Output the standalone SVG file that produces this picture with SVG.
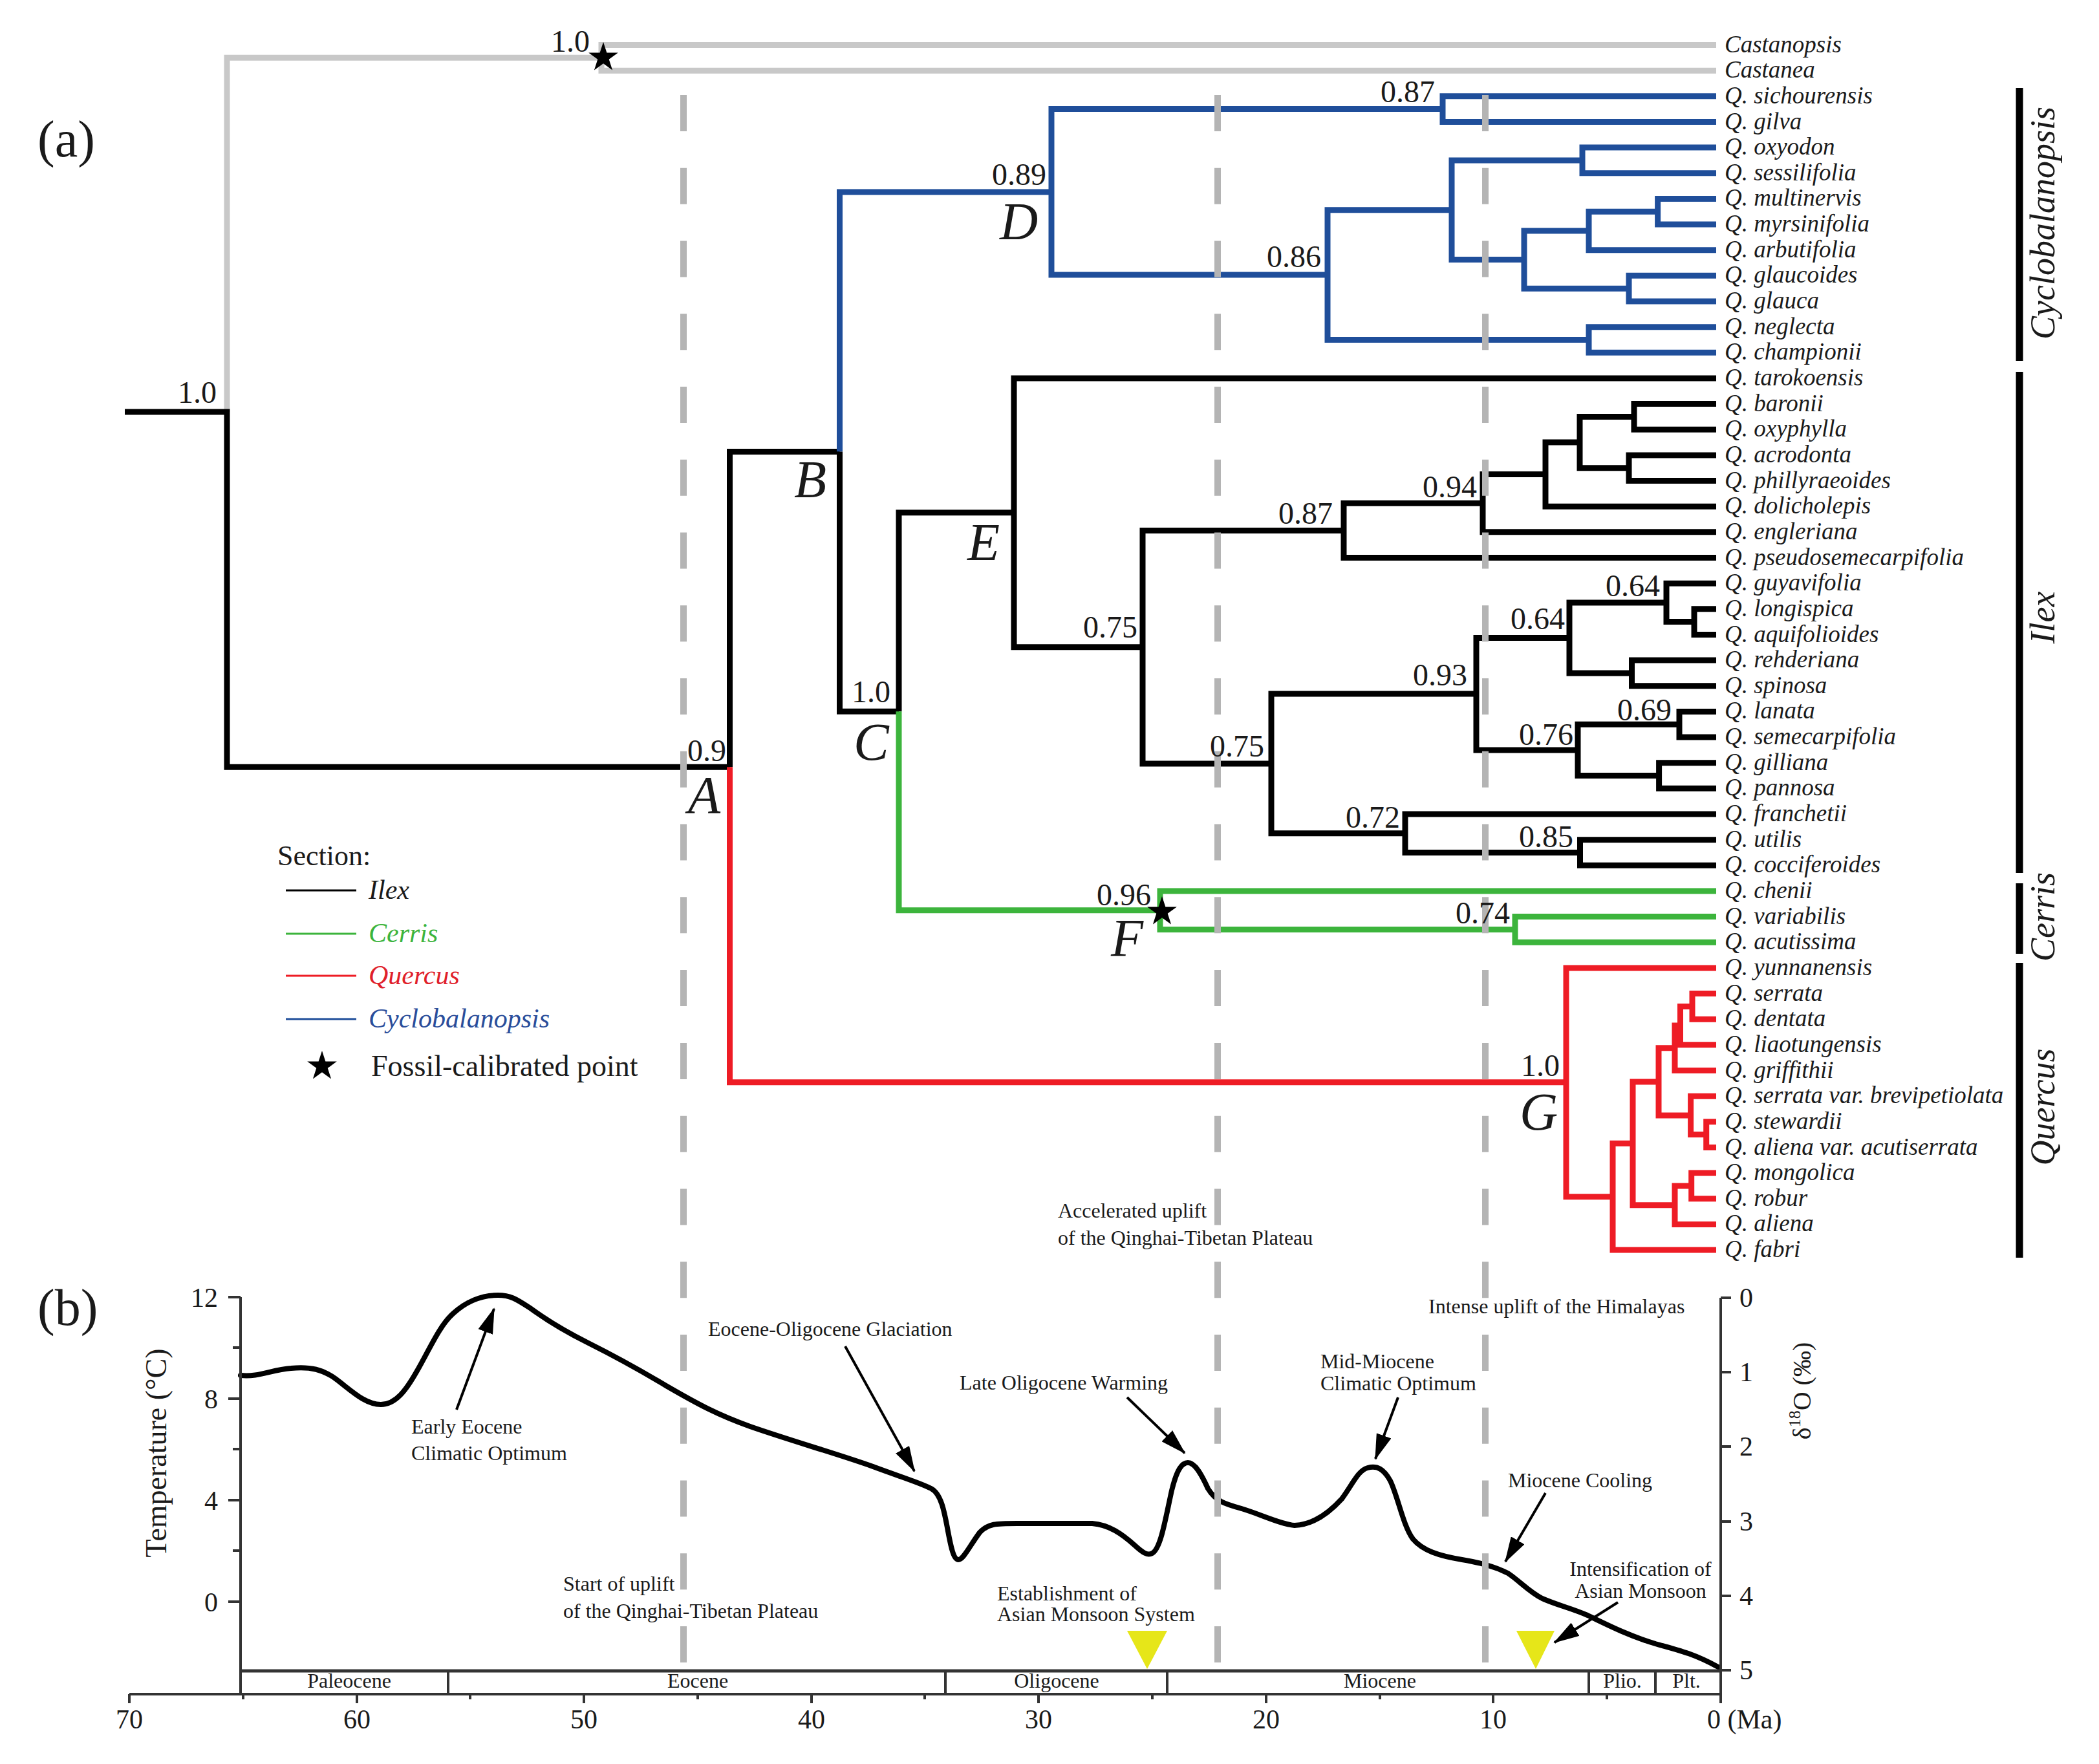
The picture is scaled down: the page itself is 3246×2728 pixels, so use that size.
<svg xmlns="http://www.w3.org/2000/svg" width="3246" height="2728" viewBox="0 0 3246 2728">
<defs>
<style>
text{font-family:"Liberation Serif","Times New Roman",serif;fill:#1a1a1a}
.tip{font-size:37px;font-style:italic}
.sup{font-size:48px;text-anchor:end}
.nl{font-size:82px;font-style:italic}
.br{fill:none;stroke-width:9;stroke-linejoin:miter;stroke-linecap:butt}
.k{stroke:#000}
.g{stroke:#c8c8c8}
.b{stroke:#1f4e9a}
.gr{stroke:#3cb43c}
.r{stroke:#ee1c25}
.dash{stroke:#b4b4b4;stroke-width:10;stroke-dasharray:56 56.76;fill:none}
.bar{stroke:#000;stroke-width:11}
.sec{font-size:54px;font-style:italic;text-anchor:middle}
.ann{font-size:32px}
.ax{stroke:#333;stroke-width:4;fill:none}
.tk{font-size:42px}
.ep{font-size:32px;text-anchor:middle}
.arr{stroke:#000;stroke-width:4;fill:none;marker-end:url(#ah)}
</style>
<path id="star" d="M0,-24 L5.39,-7.42 L22.83,-7.42 L8.72,2.83 L14.11,19.42 L0,9.17 L-14.11,19.42 L-8.72,2.83 L-22.83,-7.42 L-5.39,-7.42 Z" fill="#000"/>
<marker id="ah" markerUnits="userSpaceOnUse" markerWidth="40" markerHeight="24" refX="38" refY="12" orient="auto">
<path d="M0,0 L40,12 L0,24 Z" fill="#000"/>
</marker>
</defs>
<rect width="3246" height="2728" fill="#fff"/>

<text x="58" y="242" font-size="80">(a)</text>
<text x="58" y="2049" font-size="80">(b)</text>

<g id="connectors">
<path class="br g" d="M2654,69.5 H930 V109.15 H2654"/>
<path class="br g" d="M930,89.3 H351 V637"/>
<path class="br k" d="M193,637 H351 V1186.2 H1128.5"/>
<path class="br k" d="M1128.5,1186.2 V698.6 H1298.5"/>
<path class="br r" d="M1128.5,1186.2 V1673.8 H2422"/>
<path class="br b" d="M1298.5,698.6 V296.9 H1626"/>
<path class="br k" d="M1298.5,698.6 V1100.3 H1390"/>
<path class="br k" d="M1390,1100.3 V792.8 H1568"/>
<path class="br gr" d="M1390,1100.3 V1407.7 H1794"/>
<path class="br b" d="M2231,168.6 H1626 V425.1 H2053"/>
<path class="br b" d="M2654,148.8 H2231 V188.45 H2654"/>
<path class="br b" d="M2245,324.8 H2053 V525.5 H2457"/>
<path class="br b" d="M2654,505.65 H2457 V545.3 H2654"/>
<path class="br b" d="M2447,247.9 H2245 V401.6 H2357"/>
<path class="br b" d="M2654,228.1 H2447 V267.75 H2654"/>
<path class="br b" d="M2457,357 H2357 V446.2 H2519"/>
<path class="br b" d="M2563.6,327.2 H2457 V386.7 H2654"/>
<path class="br b" d="M2654,307.4 H2563.6 V347.05 H2654"/>
<path class="br b" d="M2654,426.35 H2519 V466 H2654"/>
<path class="br k" d="M2654,584.95 H1568 V1000.7 H1767"/>
<path class="br k" d="M2078,820.4 H1767 V1180.9 H1966"/>
<path class="br k" d="M2293,778.2 H2078 V862.5 H2654"/>
<path class="br k" d="M2390,733.6 H2293 V822.85 H2654"/>
<path class="br k" d="M2443,684.1 H2390 V783.2 H2654"/>
<path class="br k" d="M2527,644.4 H2443 V723.7 H2519"/>
<path class="br k" d="M2654,624.6 H2527 V664.25 H2654"/>
<path class="br k" d="M2654,703.9 H2519 V743.55 H2654"/>
<path class="br k" d="M2283,1073.1 H1966 V1288.7 H2173"/>
<path class="br k" d="M2427,986.4 H2283 V1159.9 H2440"/>
<path class="br k" d="M2577,931.9 H2427 V1040.9 H2523.5"/>
<path class="br k" d="M2654,902.15 H2577 V961.6 H2620"/>
<path class="br k" d="M2654,941.8 H2620 V981.45 H2654"/>
<path class="br k" d="M2654,1021.1 H2523.5 V1060.75 H2654"/>
<path class="br k" d="M2597,1120.2 H2440 V1199.5 H2565.6"/>
<path class="br k" d="M2654,1100.4 H2597 V1140.05 H2654"/>
<path class="br k" d="M2654,1179.7 H2565.6 V1219.35 H2654"/>
<path class="br k" d="M2654,1259 H2173 V1318.5 H2443.5"/>
<path class="br k" d="M2654,1298.65 H2443.5 V1338.3 H2654"/>
<path class="br gr" d="M2654,1377.95 H1794 V1437.4 H2343"/>
<path class="br gr" d="M2654,1417.6 H2343 V1457.25 H2654"/>
<path class="br r" d="M2654,1496.9 H2422 V1850.7 H2494"/>
<path class="br r" d="M2525,1768.3 H2494 V1933.05 H2654"/>
<path class="br r" d="M2565,1672.9 H2525 V1863.7 H2590"/>
<path class="br r" d="M2590,1620.8 H2565 V1724.9 H2614.6"/>
<path class="br r" d="M2598.5,1586.1 H2590 V1655.5 H2654"/>
<path class="br r" d="M2617,1556.4 H2598.5 V1615.85 H2654"/>
<path class="br r" d="M2654,1536.55 H2617 V1576.2 H2654"/>
<path class="br r" d="M2654,1695.15 H2614.6 V1754.6 H2638.7"/>
<path class="br r" d="M2654,1734.8 H2638.7 V1774.45 H2654"/>
<path class="br r" d="M2615.7,1833.9 H2590 V1893.4 H2654"/>
<path class="br r" d="M2654,1814.1 H2615.7 V1853.75 H2654"/>
</g>

<g id="temperature-curve">
<path fill="none" stroke="#000" stroke-width="8" stroke-linejoin="round" stroke-linecap="round" d="M372,2127 C400,2130 420,2118 450,2116 C480,2113 500,2118 520,2133 C545,2152 565,2172 589,2172 C612,2172 628,2150 645,2120 C665,2085 680,2050 700,2032 C720,2013 745,2003 770,2003 C790,2003 800,2010 820,2023 C850,2045 880,2062 910,2077 C960,2102 1000,2125 1030,2143 C1080,2172 1110,2188 1160,2206 C1220,2227 1300,2250 1350,2268 C1390,2283 1420,2292 1440,2302 C1455,2310 1460,2335 1466,2368 C1471,2395 1475,2412 1482,2412 C1490,2412 1500,2390 1515,2370 C1528,2356 1540,2356 1573,2356 L1689,2356 C1715,2358 1735,2372 1755,2390 C1768,2402 1775,2406 1782,2402 C1795,2395 1802,2350 1812,2305 C1820,2272 1828,2262 1837,2262 C1848,2262 1858,2280 1868,2302 C1880,2322 1895,2326 1920,2333 C1950,2342 1980,2357 2002,2359 C2030,2358 2055,2340 2075,2318 C2092,2295 2100,2274 2115,2270 C2130,2266 2140,2272 2150,2290 C2162,2315 2170,2360 2185,2380 C2200,2398 2225,2406 2261,2412 C2290,2417 2310,2422 2332,2433 C2350,2445 2365,2462 2385,2472 C2410,2483 2430,2487 2455,2498 C2490,2515 2520,2530 2560,2542 C2600,2553 2620,2558 2657,2578"/>
</g>

<g id="dashed-lines">
<line class="dash" x1="1057" y1="147" x2="1057" y2="2571"/>
<line class="dash" x1="1883" y1="147" x2="1883" y2="2571"/>
<line class="dash" x1="2297" y1="147" x2="2297" y2="2571"/>
</g>

<g id="fossil-stars">
<use href="#star" transform="translate(933,89)"/>
<use href="#star" transform="translate(1797,1410)"/>
</g>

<g id="support-values">
<text class="sup" x="335" y="623">1.0</text>
<text class="sup" x="912" y="80">1.0</text>
<text class="sup" x="1618" y="286">0.89</text>
<text class="sup" x="2219" y="158">0.87</text>
<text class="sup" x="2043" y="413">0.86</text>
<text class="sup" x="1123" y="1177">0.9</text>
<text class="sup" x="1377" y="1086">1.0</text>
<text class="sup" x="1759" y="986">0.75</text>
<text class="sup" x="2061" y="810">0.87</text>
<text class="sup" x="2284" y="769">0.94</text>
<text class="sup" x="2269" y="1060">0.93</text>
<text class="sup" x="1955" y="1170">0.75</text>
<text class="sup" x="2165" y="1280">0.72</text>
<text class="sup" x="2567" y="922">0.64</text>
<text class="sup" x="2420" y="973">0.64</text>
<text class="sup" x="2585" y="1114">0.69</text>
<text class="sup" x="2433" y="1152">0.76</text>
<text class="sup" x="2433" y="1310">0.85</text>
<text class="sup" x="1780" y="1400">0.96</text>
<text class="sup" x="2335" y="1428">0.74</text>
<text class="sup" x="2412" y="1664">1.0</text>
</g>

<g id="node-A"><text class="nl" x="1064" y="1257">A</text></g>
<g id="node-B"><text class="nl" x="1228" y="769">B</text></g>
<g id="node-C"><text class="nl" x="1320" y="1175">C</text></g>
<g id="node-D"><text class="nl" x="1546" y="370">D</text></g>
<g id="node-E"><text class="nl" x="1496" y="866">E</text></g>
<g id="node-F"><text class="nl" x="1718" y="1478">F</text></g>
<g id="node-G"><text class="nl" x="2350" y="1747">G</text></g>

<g id="tips">
<g id="tip-castanopsis"><text class="tip" x="2667" y="80.5">Castanopsis</text></g>
<g id="tip-castanea"><text class="tip" x="2667" y="120.2">Castanea</text></g>
<g id="tip-sichourensis"><text class="tip" x="2667" y="159.8">Q. sichourensis</text></g>
<g id="tip-gilva"><text class="tip" x="2667" y="199.5">Q. gilva</text></g>
<g id="tip-oxyodon"><text class="tip" x="2667" y="239.1">Q. oxyodon</text></g>
<g id="tip-sessilifolia"><text class="tip" x="2667" y="278.8">Q. sessilifolia</text></g>
<g id="tip-multinervis"><text class="tip" x="2667" y="318.4">Q. multinervis</text></g>
<g id="tip-myrsinifolia"><text class="tip" x="2667" y="358.1">Q. myrsinifolia</text></g>
<g id="tip-arbutifolia"><text class="tip" x="2667" y="397.7">Q. arbutifolia</text></g>
<g id="tip-glaucoides"><text class="tip" x="2667" y="437.4">Q. glaucoides</text></g>
<g id="tip-glauca"><text class="tip" x="2667" y="477">Q. glauca</text></g>
<g id="tip-neglecta"><text class="tip" x="2667" y="516.7">Q. neglecta</text></g>
<g id="tip-championii"><text class="tip" x="2667" y="556.3">Q. championii</text></g>
<g id="tip-tarokoensis"><text class="tip" x="2667" y="596">Q. tarokoensis</text></g>
<g id="tip-baronii"><text class="tip" x="2667" y="635.6">Q. baronii</text></g>
<g id="tip-oxyphylla"><text class="tip" x="2667" y="675.3">Q. oxyphylla</text></g>
<g id="tip-acrodonta"><text class="tip" x="2667" y="714.9">Q. acrodonta</text></g>
<g id="tip-phillyraeoides"><text class="tip" x="2667" y="754.6">Q. phillyraeoides</text></g>
<g id="tip-dolicholepis"><text class="tip" x="2667" y="794.2">Q. dolicholepis</text></g>
<g id="tip-engleriana"><text class="tip" x="2667" y="833.9">Q. engleriana</text></g>
<g id="tip-pseudosemecarpifolia"><text class="tip" x="2667" y="873.5">Q. pseudosemecarpifolia</text></g>
<g id="tip-guyavifolia"><text class="tip" x="2667" y="913.2">Q. guyavifolia</text></g>
<g id="tip-longispica"><text class="tip" x="2667" y="952.8">Q. longispica</text></g>
<g id="tip-aquifolioides"><text class="tip" x="2667" y="992.5">Q. aquifolioides</text></g>
<g id="tip-rehderiana"><text class="tip" x="2667" y="1032.1">Q. rehderiana</text></g>
<g id="tip-spinosa"><text class="tip" x="2667" y="1071.8">Q. spinosa</text></g>
<g id="tip-lanata"><text class="tip" x="2667" y="1111.4">Q. lanata</text></g>
<g id="tip-semecarpifolia"><text class="tip" x="2667" y="1151.1">Q. semecarpifolia</text></g>
<g id="tip-gilliana"><text class="tip" x="2667" y="1190.7">Q. gilliana</text></g>
<g id="tip-pannosa"><text class="tip" x="2667" y="1230.4">Q. pannosa</text></g>
<g id="tip-franchetii"><text class="tip" x="2667" y="1270">Q. franchetii</text></g>
<g id="tip-utilis"><text class="tip" x="2667" y="1309.7">Q. utilis</text></g>
<g id="tip-cocciferoides"><text class="tip" x="2667" y="1349.3">Q. cocciferoides</text></g>
<g id="tip-chenii"><text class="tip" x="2667" y="1389">Q. chenii</text></g>
<g id="tip-variabilis"><text class="tip" x="2667" y="1428.6">Q. variabilis</text></g>
<g id="tip-acutissima"><text class="tip" x="2667" y="1468.3">Q. acutissima</text></g>
<g id="tip-yunnanensis"><text class="tip" x="2667" y="1507.9">Q. yunnanensis</text></g>
<g id="tip-serrata"><text class="tip" x="2667" y="1547.6">Q. serrata</text></g>
<g id="tip-dentata"><text class="tip" x="2667" y="1587.2">Q. dentata</text></g>
<g id="tip-liaotungensis"><text class="tip" x="2667" y="1626.9">Q. liaotungensis</text></g>
<g id="tip-griffithii"><text class="tip" x="2667" y="1666.5">Q. griffithii</text></g>
<g id="tip-serrata-brevipetiolata"><text class="tip" x="2667" y="1706.2">Q. serrata var. brevipetiolata</text></g>
<g id="tip-stewardii"><text class="tip" x="2667" y="1745.8">Q. stewardii</text></g>
<g id="tip-aliena-acutiserrata"><text class="tip" x="2667" y="1785.5">Q. aliena var. acutiserrata</text></g>
<g id="tip-mongolica"><text class="tip" x="2667" y="1825.1">Q. mongolica</text></g>
<g id="tip-robur"><text class="tip" x="2667" y="1864.8">Q. robur</text></g>
<g id="tip-aliena"><text class="tip" x="2667" y="1904.4">Q. aliena</text></g>
<g id="tip-fabri"><text class="tip" x="2667" y="1944.1">Q. fabri</text></g>
</g>

<g id="section-bars">
<line class="bar" x1="3123" y1="136" x2="3123" y2="558"/>
<line class="bar" x1="3123" y1="575" x2="3123" y2="1350"/>
<line class="bar" x1="3123" y1="1366" x2="3123" y2="1475"/>
<line class="bar" x1="3123" y1="1489" x2="3123" y2="1945"/>
<text class="sec" transform="translate(3177,345) rotate(-90)">Cyclobalanopsis</text>
<text class="sec" transform="translate(3177,955) rotate(-90)">Ilex</text>
<text class="sec" transform="translate(3177,1418) rotate(-90)">Cerris</text>
<text class="sec" transform="translate(3177,1712) rotate(-90)">Quercus</text>
</g>

<g id="legend">
<text x="429" y="1338" font-size="44">Section:</text>
<line x1="442" y1="1377" x2="551" y2="1377" stroke="#000" stroke-width="3"/>
<line x1="442" y1="1444" x2="551" y2="1444" stroke="#3cb43c" stroke-width="3"/>
<line x1="442" y1="1509" x2="551" y2="1509" stroke="#ee1c25" stroke-width="3"/>
<line x1="442" y1="1576" x2="551" y2="1576" stroke="#1f4e9a" stroke-width="3"/>
<text x="570" y="1390" font-size="42" font-style="italic">Ilex</text>
<text x="570" y="1457" font-size="42" font-style="italic" style="fill:#3cb43c">Cerris</text>
<text x="570" y="1522" font-size="42" font-style="italic" style="fill:#e0202a">Quercus</text>
<text x="570" y="1589" font-size="42" font-style="italic" style="fill:#2a4d9a">Cyclobalanopsis</text>
<use href="#star" transform="translate(498,1649)"/>
<text x="574" y="1664" font-size="46">Fossil-calibrated point</text>
</g>

<g id="axes">
<path class="ax" d="M372,2006 V2620"/>
<path class="ax" d="M353,2006 H372 M360,2084 H372 M353,2163 H372 M360,2241 H372 M353,2320 H372 M360,2398 H372 M353,2477 H372"/>
<text class="tk" x="337" y="2021" text-anchor="end">12</text>
<text class="tk" x="337" y="2178" text-anchor="end">8</text>
<text class="tk" x="337" y="2335" text-anchor="end">4</text>
<text class="tk" x="337" y="2492" text-anchor="end">0</text>
<text font-size="46" text-anchor="middle" transform="translate(257,2247) rotate(-90)">Temperature (°C)</text>

<path class="ax" d="M2661,2007 V2634"/>
<path class="ax" d="M2661,2007 H2677 M2661,2122 H2677 M2661,2237 H2677 M2661,2353 H2677 M2661,2468 H2677 M2661,2583 H2677"/>
<text class="tk" x="2690" y="2021">0</text>
<text class="tk" x="2690" y="2136">1</text>
<text class="tk" x="2690" y="2251">2</text>
<text class="tk" x="2690" y="2367">3</text>
<text class="tk" x="2690" y="2482">4</text>
<text class="tk" x="2690" y="2597">5</text>
<text font-size="40" text-anchor="middle" transform="translate(2800,2151) rotate(-90)">δ<tspan font-size="26" dy="-16">18</tspan><tspan dy="16">O (‰)</tspan></text>

<path class="ax" d="M200,2620 H2661"/>
<path d="M372,2584 H2661" stroke="#333" stroke-width="5" fill="none"/>
<path class="ax" d="M693,2584 V2620 M1462,2584 V2620 M1805,2584 V2620 M2457,2584 V2620 M2560,2584 V2620"/>
<path class="ax" d="M200,2620 V2634 M552,2620 V2634 M903,2620 V2634 M1255,2620 V2634 M1606,2620 V2634 M1958,2620 V2634 M2309,2620 V2634 M376,2620 V2628 M727,2620 V2628 M1079,2620 V2628 M1430,2620 V2628 M1782,2620 V2628 M2134,2620 V2628 M2485,2620 V2628"/>
<text class="ep" x="540" y="2610">Paleocene</text>
<text class="ep" x="1079" y="2610">Eocene</text>
<text class="ep" x="1634" y="2610">Oligocene</text>
<text class="ep" x="2134" y="2610">Miocene</text>
<text class="ep" x="2509" y="2610">Plio.</text>
<text class="ep" x="2608" y="2610">Plt.</text>
<text class="tk" x="200" y="2673" text-anchor="middle">70</text>
<text class="tk" x="552" y="2673" text-anchor="middle">60</text>
<text class="tk" x="903" y="2673" text-anchor="middle">50</text>
<text class="tk" x="1255" y="2673" text-anchor="middle">40</text>
<text class="tk" x="1606" y="2673" text-anchor="middle">30</text>
<text class="tk" x="1958" y="2673" text-anchor="middle">20</text>
<text class="tk" x="2309" y="2673" text-anchor="middle">10</text>
<text class="tk" x="2640" y="2673">0 (Ma)</text>
</g>

<g id="events">
<polygon points="1743,2522 1805,2522 1774,2581" fill="#e6e619"/>
<polygon points="2345,2522 2404,2522 2375,2581" fill="#e6e619"/>
<text class="ann" x="636" y="2217">Early Eocene</text>
<text class="ann" x="636" y="2258">Climatic Optimum</text>
<text class="ann" x="1095" y="2066">Eocene-Oligocene Glaciation</text>
<text class="ann" x="871" y="2460">Start of uplift</text>
<text class="ann" x="871" y="2502">of the Qinghai-Tibetan Plateau</text>
<text class="ann" x="1636" y="1883">Accelerated uplift</text>
<text class="ann" x="1636" y="1925">of the Qinghai-Tibetan Plateau</text>
<text class="ann" x="1484" y="2149">Late Oligocene Warming</text>
<text class="ann" x="2042" y="2116">Mid-Miocene</text>
<text class="ann" x="2042" y="2150">Climatic Optimum</text>
<text class="ann" x="2209" y="2031">Intense uplift of the Himalayas</text>
<text class="ann" x="2332" y="2300">Miocene Cooling</text>
<text class="ann" x="2537" y="2437" text-anchor="middle">Intensification of</text>
<text class="ann" x="2537" y="2471" text-anchor="middle">Asian Monsoon</text>
<text class="ann" x="1542" y="2475">Establishment of</text>
<text class="ann" x="1542" y="2507">Asian Monsoon System</text>
<line class="arr" x1="706" y1="2180" x2="764" y2="2024"/>
<line class="arr" x1="1307" y1="2082" x2="1414" y2="2275"/>
<line class="arr" x1="1743" y1="2161" x2="1832" y2="2247"/>
<line class="arr" x1="2162" y1="2161" x2="2127" y2="2256"/>
<line class="arr" x1="2390" y1="2309" x2="2328" y2="2415"/>
<line class="arr" x1="2502" y1="2478" x2="2404" y2="2540"/>
</g>
</svg>
